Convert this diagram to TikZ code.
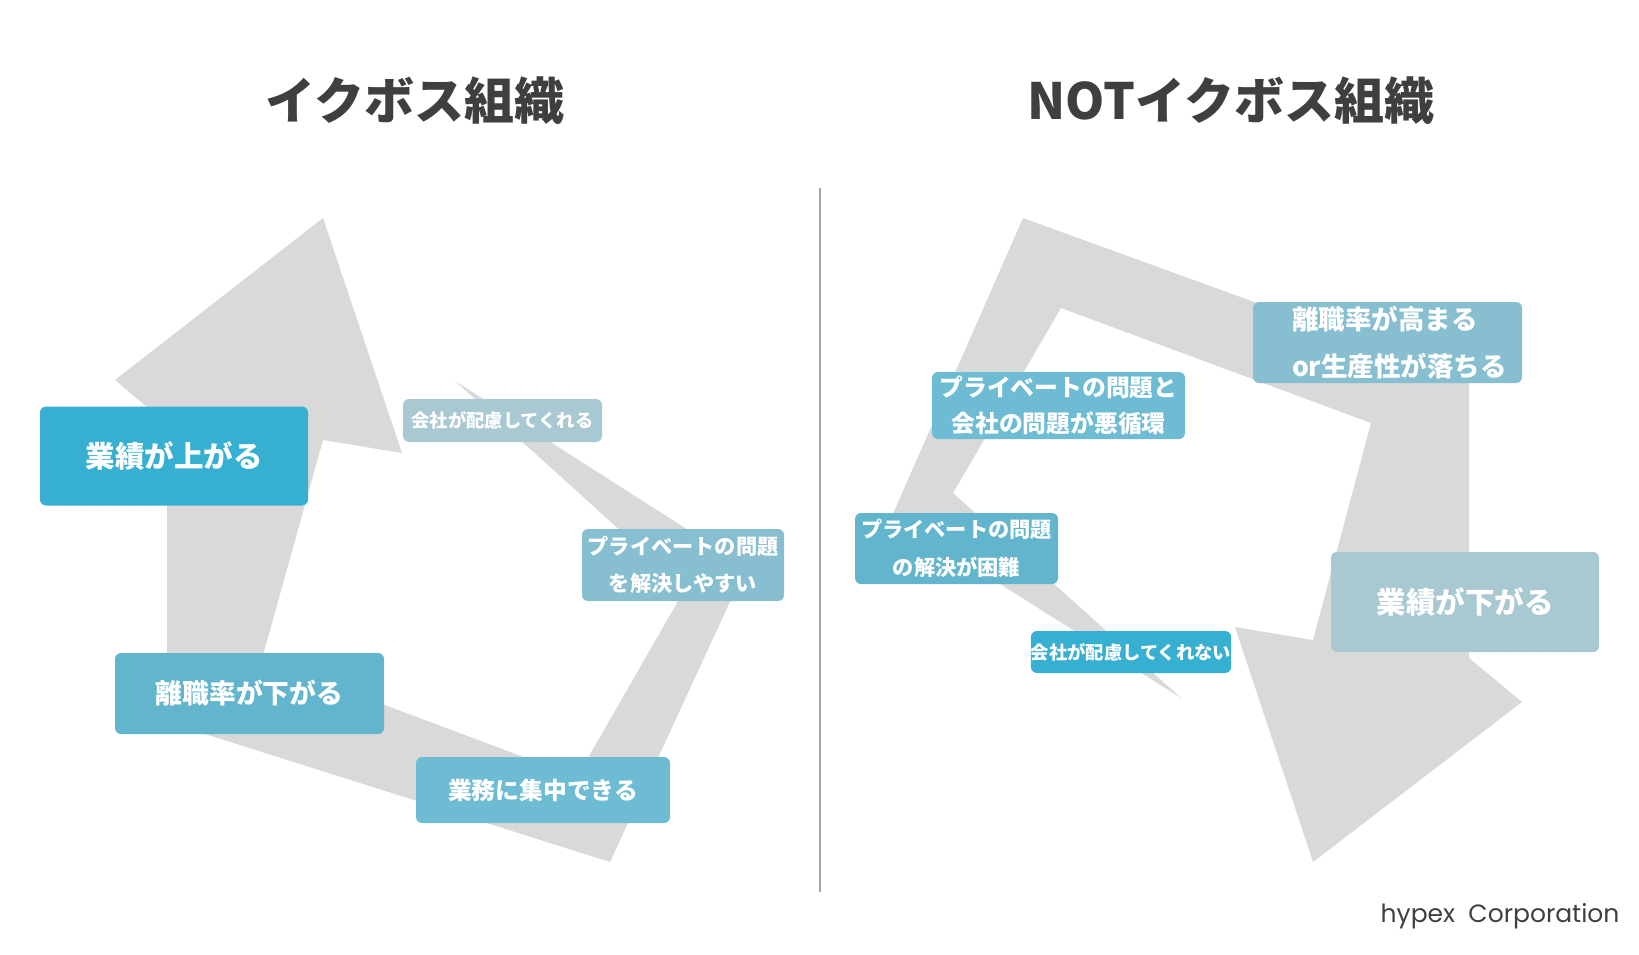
\documentclass[tikz,border=0pt]{standalone}
\usepackage{fontspec}
\setmainfont{Noto Sans CJK JP}
\newfontfamily\logofont{Poppins}
\usetikzlibrary{positioning}
\definecolor{ink}{HTML}{3F3F3F}
\definecolor{mist}{HTML}{D9D9D9}
\definecolor{rulegray}{HTML}{A6A6A6}
\definecolor{tealA}{HTML}{37AFD1}
\definecolor{tealB}{HTML}{63B5CE}
\definecolor{tealC}{HTML}{6DBCD3}
\definecolor{tealD}{HTML}{87BFD0}
\definecolor{tealE}{HTML}{A8C8D2}
\newcommand{\cardfont}[2]{\bfseries\fontsize{#1}{#2}\selectfont}

\begin{document}
\begin{tikzpicture}[
      x=1pt, y=-1pt,
      loop/.style={fill=mist},
      card/.style={rectangle, rounded corners=6pt, text=white,
                   inner sep=0pt, align=center},
      head/.style={text=ink, font=\cardfont{50}{60}}
    ]
      \useasboundingbox (0,0) rectangle (1639,955);

      % titles and divider
      \node[head] (ikuboss) at (415,101) {イクボス組織};
      \node[head] (notikuboss) at (1231,101) {NOTイクボス組織};
      \draw[rulegray, line width=1.5pt] (820,188) -- (820,892);

      % good cycle
      \fill[loop] (323,218) -- (402,453) -- (323,440) -- (262,659) -- (577,777)
        -- (685,589) -- (455,381) -- (746,567) -- (610,862) -- (167,722)
        -- (167,424) -- (115,380) -- cycle;
      \node[card, fill=tealA, minimum width=268, minimum height=99, font=\cardfont{29.5}{35}] (perfup) at (174,456) {業績が上がる};
      \node[card, fill=tealB, minimum width=269, minimum height=81, font=\cardfont{26.8}{32}] (quitdown) at (249.5,693.5) {離職率が下がる};
      \node[card, fill=tealC, minimum width=254, minimum height=66, font=\cardfont{23.8}{28}] (focus) at (543,790) {業務に集中できる};
      \node[card, fill=tealD, minimum width=202, minimum height=72, font=\cardfont{21.2}{37}] (privsolve) at (683,565) {プライベートの問題\\を解決しやすい};
      \node[card, fill=tealE, minimum width=199, minimum height=43, font=\cardfont{18.3}{22}] (care) at (502.5,420.5) {会社が配慮してくれる};

      % bad cycle
      \fill[loop] (1313,862) -- (1235,627) -- (1313,640) -- (1371,423) -- (1061,308)
        -- (953,493) -- (1181,698) -- (892,516) -- (1023,218) -- (1469,380)
        -- (1469,658) -- (1522,702) -- cycle;
      \node[card, fill=tealD, text width=191, inner xsep=39, minimum height=81, align=left, font=\cardfont{26.5}{47}] (quitup) at (1387.5,342.5) {離職率が高まる\\or生産性が落ちる};
      \node[card, fill=tealC, minimum width=253, minimum height=67, font=\cardfont{23.8}{36}] (vicious) at (1058.5,405.5) {プライベートの問題と\\会社の問題が悪循環};
      \node[card, fill=tealB, minimum width=203, minimum height=71, font=\cardfont{21.2}{38}] (privhard) at (956.5,548.5) {プライベートの問題\\の解決が困難};
      \node[card, fill=tealA, minimum width=200, minimum height=42, font=\cardfont{18.3}{22}] (nocare) at (1131,652) {会社が配慮してくれない};
      \node[card, fill=tealE, minimum width=268, minimum height=100, font=\cardfont{29.5}{35}] (perfdown) at (1465,602) {業績が下がる};

      \node[anchor=base east, text=ink, font=\logofont\fontsize{25}{30}\selectfont] (logo) at (1623,922) {hypex\ \ Corporation};
    \end{tikzpicture}
\end{document}
